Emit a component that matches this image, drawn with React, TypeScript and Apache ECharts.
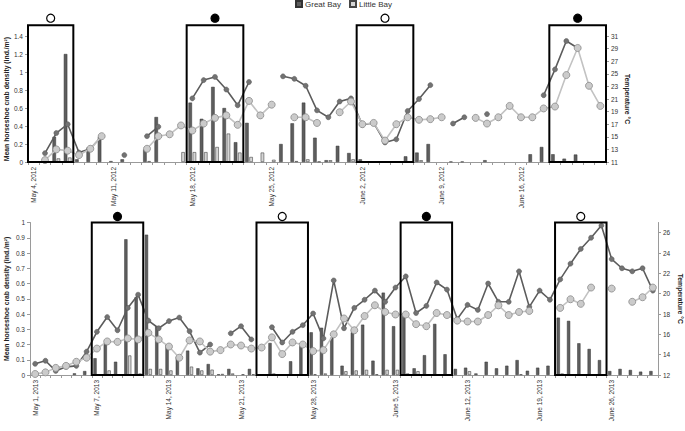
import React, { useEffect, useRef } from "react";
import * as echarts from "echarts";

const MONTHS = ["January","February","March","April","May","June","July","August","September","October","November","December"];
function dayRange(year: number, month0: number, day: number, count: number): string[] {
  const out: string[] = [];
  for (let k = 0; k < count; k++) {
    const d = new Date(Date.UTC(year, month0, day + k));
    out.push(`${MONTHS[d.getUTCMonth()]} ${d.getUTCDate()}, ${d.getUTCFullYear()}`);
  }
  return out;
}

// Categories (one per day)
const days2012 = dayRange(2012, 4, 4, 51); // May 4 – June 23, 2012
const days2013 = dayRange(2013, 4, 1, 61); // May 1 – June 30, 2013

const tickLabels2012 = ["May 4, 2012", "May 11, 2012", "May 18, 2012", "May 25, 2012", "June 2, 2012", "June 9, 2012", "June 16, 2012"];
const tickLabels2013 = ["May 1, 2013", "May 7, 2013", "May 14, 2013", "May 21, 2013", "May 28, 2013", "June 5, 2013", "June 12, 2013", "June 19, 2013", "June 26, 2013"];

// 2012 crab density (ind./m²)
const gbDensity2012 = [
  null, null, 0.28, 1.2, 0.03, 0.16, 0.28, 0.01, 0.03, null,
  0.14, 0.5, null, null, 0.66, 0.48, 0.835, 0.6, 0.22, 0.435,
  null, null, 0.2, 0.43, 0.66, 0.27, 0.02, 0.18, 0.1, 0.03,
  null, null, null, 0.063, 0.105, 0.2, null, 0.005, 0.005, null,
  0.02, null, null, null, 0.086, 0.167, 0.086, 0.037, 0.083, null,
  null,
];
const lbDensity2012 = [
  null, 0.01, 0.04, 0.05, null, null, null, null, null, null,
  0.01, null, null, 0.11, 0.11, 0.11, 0.167, 0.316, 0.105, 0.056,
  0.105, 0.025, null, 0.01, 0.03, 0.005, 0.02, null, 0.03, null,
  null, null, null, null, 0.02, null, null, null, null, null,
  null, null, null, null, null, null, null, null, null, null,
  null,
];
// 2012 temperature (°C)
const gbTemp2012 = [
  null, 12.4, 15.6, 17.0, 12.5, 13.1, 15.1, null, 12.1, null,
  15.1, 16.6, null, null, 21.1, 24.0, 24.5, 22.5, 20.0, 23.7,
  null, null, 24.6, 24.2, 23.1, 19.2, 18.1, 20.6, 21.1, 16.9,
  17.2, 14.1, 14.6, 19.1, 21.0, 23.2, null, 17.1, 18.1, null,
  18.6, null, null, null, null, 21.6, 25.7, 30.2, 29.1, null,
  null,
];
const lbTemp2012 = [
  null, 11.3, 13.0, 12.8, 12.1, 13.1, 15.1, null, null, null,
  13.1, 15.1, 15.4, 16.8, 16.0, 17.1, 18.0, 18.4, 16.9, 20.7,
  18.4, 20.1, null, 18.1, 18.1, 17.2, null, 18.9, 20.6, 17.0,
  17.2, 14.4, 17.0, 18.1, 17.7, 17.8, 18.1, null, null, 18.0,
  17.1, 18.1, 19.9, 18.1, 18.1, 19.5, 19.8, 24.8, 29.1, 23.1,
  19.9,
];

// 2013 crab density (ind./m²)
const gbDensity2013 = [
  null, null, null, null, 0.011, 0.026, 0.11, 0.21, 0.087, 0.89,
  0.51, 0.92, 0.32, 0.2, 0.12, 0.16, 0.044, 0.072, 0.005, 0.04,
  null, 0.04, 0.005, 0.21, null, 0.09, 0.19, 0.28, 0.31, 0.245,
  0.061, 0.28, 0.33, 0.094, 0.54, 0.32, 0.387, 0.044, 0.13, 0.335,
  0.136, 0.04, 0.048, 0.01, 0.087, 0.044, 0.061, 0.098, 0.028, 0.048,
  0.061, 0.376, 0.355, 0.208, 0.171, 0.098, 0.026, 0.04, 0.033, 0.022,
  0.026,
];
const lbDensity2013 = [
  null, null, null, null, null, null, 0.005, 0.03, 0.005, 0.128,
  0.01, 0.04, 0.04, 0.03, null, 0.055, 0.03, 0.035, 0.007, 0.01,
  0.005, 0.005, null, 0.01, null, null, null, 0.005, 0.01, null,
  0.025, 0.03, 0.034, 0.005, 0.034, 0.034, 0.01, 0.025, null, null,
  null, null, 0.025, null, null, null, null, 0.005, null, null,
  null, 0.01, null, null, null, null, null, null, null, null,
  null,
];
// 2013 temperature (°C)
const gbTemp2013 = [
  13.1, 13.4, 12.4, 12.8, 12.9, 14.3, 16.25, 17.7, 16.4, 18.6,
  19.9, 17.35, 16.6, 17.3, 17.65, 16.3, 14.2, 15.0, null, 16.1,
  16.8, 15.5, null, 16.7, 15.2, 16.25, 16.9, 18.05, 15.6, 21.3,
  16.6, 18.6, 19.4, 20.3, 19.2, 20.6, 21.7, 18.1, 18.8, 21.1,
  20.4, 17.5, 18.9, 18.4, 21.0, 19.2, 19.2, 22.2, 18.7, 20.3,
  19.4, 21.4, 22.95, 24.4, 25.5, 26.7, 23.4, 22.5, 22.2, 22.5,
  20.3,
];
const lbTemp2013 = [
  12.1, 12.26, 12.7, 12.9, 13.3, 13.7, 14.6, 15.3, 15.26, 15.6,
  15.5, 16.15, 15.5, 14.8, 13.7, 15.4, 15.3, 14.3, 14.45, 15.0,
  14.9, 14.6, 14.7, 15.7, 14.06, 15.2, 15.0, 14.35, 14.45, 16.0,
  17.56, 16.4, 17.8, 18.86, 18.2, 17.95, 17.95, 17.0, 16.8, 18.1,
  17.9, 17.35, 17.26, 17.26, 17.9, 18.85, 17.9, 18.2, 18.3, null,
  null, 18.6, 19.45, 19.0, 20.6, null, 20.5, null, 19.2, 19.65,
  20.6,
];

// Highlighted periods: [first day, last day, filled circle]
const boxes2012: [string, string, boolean][] = [
  ["May 4, 2012", "May 7, 2012", false],
  ["May 18, 2012", "May 22, 2012", true],
  ["June 2, 2012", "June 6, 2012", false],
  ["June 19, 2012", "June 23, 2012", true],
];
const boxes2013: [string, string, boolean][] = [
  ["May 7, 2013", "May 11, 2013", true],
  ["May 23, 2013", "May 27, 2013", false],
  ["June 6, 2013", "June 10, 2013", true],
  ["June 21, 2013", "June 25, 2013", false],
];
const boxTop2012 = 1.52;
const boxTop2013 = 1.0;

const FONT = "'Liberation Sans', Arial, sans-serif";
const AXIS_COLOR = "#9a9a9a";
const TEXT_COLOR = "#333";

function xAxis(gridIndex: number, data: string[], labels: string[]) {
  const set = new Set(labels);
  return {
    type: "category",
    gridIndex,
    data,
    boundaryGap: true,
    axisLine: { show: true, lineStyle: { color: AXIS_COLOR, width: 1 } },
    axisTick: { show: true, interval: 0, length: 3, lineStyle: { color: AXIS_COLOR } },
    axisLabel: {
      rotate: 90,
      interval: (index: number, value: string) => set.has(value),
      fontSize: 6.5,
      fontFamily: FONT,
      color: TEXT_COLOR,
      margin: 5,
    },
    splitLine: { show: false },
  };
}

function yAxis(gridIndex: number, position: string, min: number, max: number, interval: number, name: string, nameGap: number, extra: any = {}) {
  return {
    type: "value",
    gridIndex,
    position,
    min,
    max,
    interval,
    name,
    nameLocation: "middle",
    nameRotate: position === "left" ? 90 : -90,
    nameGap,
    nameMoveOverlap: false,
    nameTextStyle: { fontSize: 6.8, fontWeight: "bold", fontFamily: FONT, color: "#222" },
    axisLine: { show: true, lineStyle: { color: AXIS_COLOR, width: 1 } },
    axisTick: { show: true, length: 3, lineStyle: { color: AXIS_COLOR } },
    axisLabel: { fontSize: 6.5, fontFamily: FONT, color: TEXT_COLOR, margin: 5, ...(extra.axisLabel || {}) },
    splitLine: { show: false },
  };
}

const gbBarStyle = { color: "#5e5e5e", borderColor: "#333", borderWidth: 0.5 };
const lbBarStyle = { color: "#d6d6d6", borderColor: "#454545", borderWidth: 0.6 };

function barSeries(name: string, data: (number | null)[], xi: number, yi: number, style: any, width: number) {
  return {
    type: "bar",
    name,
    xAxisIndex: xi,
    yAxisIndex: yi,
    data,
    barWidth: width,
    barGap: "20%",
    itemStyle: style,
    emphasis: { disabled: true },
    z: 2,
  };
}

function gbLine(name: string, data: (number | null)[], xi: number, yi: number) {
  return {
    type: "line",
    name,
    xAxisIndex: xi,
    yAxisIndex: yi,
    data,
    symbol: "circle",
    symbolSize: 5,
    showSymbol: true,
    showAllSymbol: true,
    connectNulls: false,
    lineStyle: { color: "#5c5c5c", width: 1.6 },
    itemStyle: { color: "#727272", borderColor: "#555", borderWidth: 0.5 },
    emphasis: { disabled: true },
    z: 3,
  };
}

function lbLine(name: string, data: (number | null)[], xi: number, yi: number) {
  return {
    type: "line",
    name,
    xAxisIndex: xi,
    yAxisIndex: yi,
    data,
    symbol: "circle",
    symbolSize: 7,
    showSymbol: true,
    showAllSymbol: true,
    connectNulls: false,
    lineStyle: { color: "#c2c2c2", width: 1.6 },
    itemStyle: { color: "#cbcbcb", borderColor: "#8a8a8a", borderWidth: 0.8 },
    emphasis: { disabled: true },
    z: 4,
  };
}

export default function App() {
  const ref = useRef<HTMLDivElement>(null);

  useEffect(() => {
    if (!ref.current) return;
    const chart = echarts.init(ref.current, null, { renderer: "svg" });
    const option: any = {
      animation: false,
      backgroundColor: "#ffffff",
      textStyle: { fontFamily: FONT },
      legend: {
        data: ["Great Bay", "Little Bay"],
        left: 295,
        top: 0,
        padding: 0,
        itemWidth: 6,
        itemHeight: 6,
        itemGap: 8,
        icon: "rect",
        textStyle: { fontSize: 8, fontFamily: FONT, color: "#333", padding: [0, 0, 0, -2] },
        selectedMode: false,
      },
      grid: [
        { left: 28, right: 79, top: 36, height: 126, containLabel: false, outerBoundsMode: "none" },
        { left: 30, right: 27, top: 222.5, height: 152.5, containLabel: false, outerBoundsMode: "none" },
      ],
      xAxis: [xAxis(0, days2012, tickLabels2012), xAxis(1, days2013, tickLabels2013)],
      yAxis: [
        yAxis(0, "left", 0, 1.4, 0.2, "Mean horseshoe crab density (ind./m²)", 18),
        yAxis(0, "right", 11, 31, 2, "Temperature °C", 18),
        yAxis(1, "left", 0, 1, 0.1, "Mean horseshoe crab density (ind./m²)", 20),
        yAxis(1, "right", 12, 27, 2, "Temperature °C", 18.5, { axisLabel: { showMaxLabel: false } }),
      ],
      series: [
        barSeries("Great Bay", gbDensity2012, 0, 0, gbBarStyle, 3.5),
        barSeries("Little Bay", lbDensity2012, 0, 0, lbBarStyle, 3.5),
        gbLine("Great Bay temperature 2012", gbTemp2012, 0, 1),
        lbLine("Little Bay temperature 2012", lbTemp2012, 0, 1),
        barSeries("Great Bay", gbDensity2013, 1, 2, gbBarStyle, 3.2),
        barSeries("Little Bay", lbDensity2013, 1, 2, lbBarStyle, 3.2),
        gbLine("Great Bay temperature 2013", gbTemp2013, 1, 3),
        lbLine("Little Bay temperature 2013", lbTemp2013, 1, 3),
      ],
    };
    chart.setOption(option);

    const graphics: any[] = [];
    const addBoxes = (boxes: [string, string, boolean][], days: string[], xi: number, yi: number, topVal: number, circleGap: number) => {
      const finder = { xAxisIndex: xi, yAxisIndex: yi };
      const c0 = chart.convertToPixel(finder as any, [0, 0]) as number[];
      const c1 = chart.convertToPixel(finder as any, [1, 0]) as number[];
      const band = c1[0] - c0[0];
      boxes.forEach(([a, b, filled]) => {
        const ia = days.indexOf(a);
        const ib = days.indexOf(b);
        const pa = chart.convertToPixel(finder as any, [ia, 0]) as number[];
        const pb = chart.convertToPixel(finder as any, [ib, topVal]) as number[];
        const x0 = pa[0] - band / 2;
        const x1 = pb[0] + band / 2;
        const yb = pa[1];
        const yt = pb[1];
        graphics.push({
          type: "rect",
          shape: { x: x0, y: yt, width: x1 - x0, height: yb - yt },
          style: { fill: "none", stroke: "#000", lineWidth: 2 },
          z: 100,
          silent: true,
        });
        graphics.push({
          type: "circle",
          shape: { cx: (x0 + x1) / 2, cy: yt - circleGap, r: 4 },
          style: { fill: filled ? "#000" : "#fff", stroke: "#000", lineWidth: 1.2 },
          z: 100,
          silent: true,
        });
      });
    };
    addBoxes(boxes2012, days2012, 0, 0, boxTop2012, 7);
    addBoxes(boxes2013, days2013, 1, 2, boxTop2013, 6);
    chart.setOption({ graphic: graphics });

    return () => chart.dispose();
  }, []);

  return <div ref={ref} style={{ position: "fixed", left: 0, top: 0, width: 685, height: 431 }} />;
}
